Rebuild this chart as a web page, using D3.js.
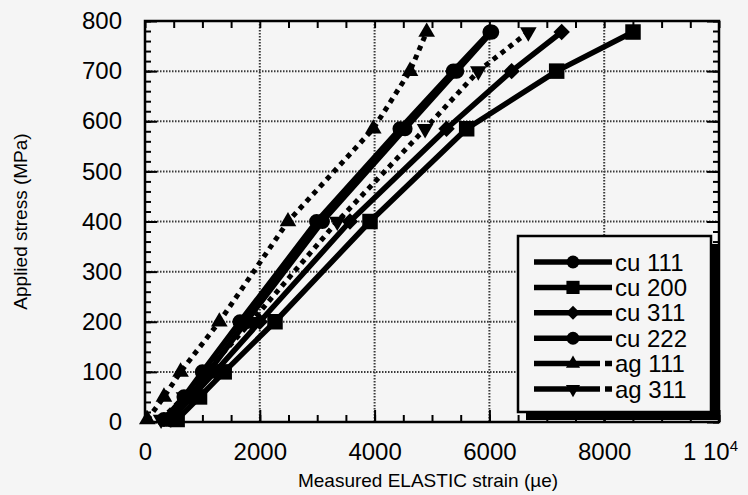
<!DOCTYPE html>
<html>
<head>
<meta charset="utf-8">
<script src="https://cdn.jsdelivr.net/npm/d3@7"></script>
<style>
  html, body { margin: 0; padding: 0; background: #f5f5f5; }
  svg { display: block; font-family: "Liberation Sans", Arial, Helvetica, sans-serif; }
</style>
</head>
<body>
<svg id="chart" width="748" height="495"></svg>
<script>
// Load steps (MPa) and measured elastic strain (microstrain) per reflection
const stressLevels = [5, 50, 100, 200, 400, 585, 700, 778];
const cu111 = [330, 680, 1000, 1655, 2990, 4443, 5371, 6010];
const cu200 = [560, 950, 1380, 2265, 3920, 5604, 7172, 8502];
const cu311 = [450, 820, 1220, 2000, 3570, 5253, 6387, 7259];
const cu222 = [420, 780, 1110, 1760, 3090, 4530, 5430, 6040];
const ag111 = [40, 330, 620, 1295, 2491, 3977, 4617, 4907];
const ag311 = [280, 680, 1060, 1850, 3350, 4880, 5807, 6678];

const seriesNames = ["cu 111", "cu 200", "cu 311", "cu 222", "ag 111", "ag 311"];
const seriesValues = [cu111, cu200, cu311, cu222, ag111, ag311];
const seriesMarkers = ["circle", "square", "diamond", "circle", "triangle", "triangleDown"];
const seriesDotted = [false, false, false, false, true, true];

const xTicks = [0, 2000, 4000, 6000, 8000, 10000];
const yTicks = [0, 100, 200, 300, 400, 500, 600, 700, 800];

const margin = { left: 145, right: 719, top: 21, bottom: 422 };
const svg = d3.select("#chart");

const x = d3.scaleLinear().domain([0, 10000]).range([margin.left, margin.right]);
const y = d3.scaleLinear().domain([0, 800]).range([margin.bottom, margin.top]);

svg.append("rect").attr("width", 748).attr("height", 495).attr("fill", "#f5f5f5");

// dotted grid at major ticks
const grid = svg.append("g").attr("stroke", "#3a3a3a").attr("stroke-width", 2)
  .attr("stroke-dasharray", "1.5,1.5");
grid.selectAll("line.gx").data(xTicks.filter(d => d > 0 && d < 10000)).join("line")
  .attr("x1", d => x(d)).attr("x2", d => x(d))
  .attr("y1", margin.top).attr("y2", margin.bottom);
grid.selectAll("line.gy").data(yTicks.filter(d => d > 0 && d < 800)).join("line")
  .attr("y1", d => y(d)).attr("y2", d => y(d))
  .attr("x1", margin.left).attr("x2", margin.right);

// marker shapes
function markerPath(kind, scale) {
  const k = scale || 1;
  switch (kind) {
    case "circle": return d3.symbol(d3.symbolCircle, 180 * k * k)();
    case "square": return d3.symbol(d3.symbolSquare, 240 * k * k)();
    case "diamond": return d3.symbol(d3.symbolSquare, 135 * k * k)();
    default: return d3.symbol(d3.symbolTriangle, 120 * k * k)();
  }
}
function markerRotate(kind) {
  if (kind === "diamond") return 45;
  if (kind === "triangleDown") return 180;
  return 0;
}

const line = d3.line().x(d => x(d[0])).y(d => y(d[1]));

const plot = svg.append("g");
seriesValues.forEach((vals, i) => {
  const pts = vals.map((v, j) => [v, stressLevels[j]]);
  const g = plot.append("g").attr("class", "series");
  g.append("path").datum(pts).attr("d", line)
    .attr("fill", "none").attr("stroke", "#000")
    .attr("stroke-width", seriesDotted[i] ? 5 : 5.5)
    .attr("stroke-dasharray", seriesDotted[i] ? "5,5" : null)
    .attr("stroke-linejoin", "round");
  g.selectAll("path.mk").data(pts).join("path").attr("class", "mk")
    .attr("d", markerPath(seriesMarkers[i]))
    .attr("transform", d => `translate(${x(d[0])},${y(d[1])}) rotate(${markerRotate(seriesMarkers[i])})`)
    .attr("fill", "#000");
});

// axes: inward ticks on all four sides
const fontTick = 24;
function styleAxis(g) {
  g.select(".domain").remove();
  g.selectAll(".tick line").attr("stroke", "#000").attr("stroke-width", 2);
  g.selectAll(".tick text").attr("fill", "#000").attr("font-size", fontTick)
    .attr("font-family", "'Liberation Sans', Arial, sans-serif");
}
const minorX = d3.range(0, 10001, 500);
const minorY = d3.range(0, 801, 20);

svg.append("g").attr("transform", `translate(${margin.left},0)`)
  .call(d3.axisLeft(y).tickValues(minorY).tickSize(-6).tickFormat("")).call(styleAxis);
svg.append("g").attr("transform", `translate(${margin.left},0)`)
  .call(d3.axisLeft(y).tickValues(yTicks).tickSize(-12).tickPadding(23)).call(styleAxis);
svg.append("g").attr("transform", `translate(${margin.right},0)`)
  .call(d3.axisRight(y).tickValues(minorY).tickSize(-6).tickFormat("")).call(styleAxis);
svg.append("g").attr("transform", `translate(${margin.right},0)`)
  .call(d3.axisRight(y).tickValues(yTicks).tickSize(-12).tickFormat("")).call(styleAxis);
svg.append("g").attr("transform", `translate(0,${margin.top})`)
  .call(d3.axisTop(x).tickValues(minorX).tickSize(-7).tickFormat("")).call(styleAxis);
svg.append("g").attr("transform", `translate(0,${margin.bottom})`)
  .call(d3.axisBottom(x).tickValues(minorX).tickSize(-7).tickFormat("")).call(styleAxis);
const xAxis = svg.append("g").attr("transform", `translate(0,${margin.bottom})`)
  .call(d3.axisBottom(x).tickValues(xTicks).tickSize(-12).tickPadding(21).tickFormat(d3.format("d")))
  .call(styleAxis);
xAxis.selectAll(".tick text").filter(d => d === 10000).each(function () {
  const t = d3.select(this).text("").attr("dx", -9);
  t.append("tspan").text("1 10");
  t.append("tspan").text("4").attr("font-size", 15).attr("dy", -9);
});

// plot frame
svg.append("rect").attr("x", margin.left).attr("y", margin.top)
  .attr("width", margin.right - margin.left).attr("height", margin.bottom - margin.top)
  .attr("fill", "none").attr("stroke", "#000").attr("stroke-width", 2.5);

// axis titles
svg.append("text").attr("x", (margin.left + margin.right) / 2 - 4).attr("y", 487)
  .attr("text-anchor", "middle").attr("font-size", 19).attr("fill", "#000")
  .text("Measured ELASTIC strain (\u00b5e)");
svg.append("text").attr("transform", `translate(27,${(margin.top + margin.bottom) / 2}) rotate(-90)`)
  .attr("text-anchor", "middle").attr("font-size", 19).attr("fill", "#000")
  .text("Applied stress (MPa)");

// legend with drop shadow
const lg = svg.append("g").attr("transform", "translate(518,236)");
const lw = 193, lh = 176;
lg.append("rect").attr("x", 8).attr("y", 8).attr("width", lw).attr("height", lh).attr("fill", "#000");
lg.append("rect").attr("x", 0).attr("y", 0).attr("width", lw).attr("height", lh)
  .attr("fill", "#f5f5f5").attr("stroke", "#000").attr("stroke-width", 2.5);
seriesNames.forEach((name, i) => {
  const ry = 26 + i * 25.4;
  const row = lg.append("g").attr("transform", `translate(0,${ry})`);
  row.append("line").attr("x1", 16).attr("x2", 94).attr("y1", 0).attr("y2", 0)
    .attr("stroke", "#000").attr("stroke-width", 5.5)
    .attr("stroke-dasharray", seriesDotted[i] ? "66,5,7" : null);
  row.append("path").attr("d", markerPath(seriesMarkers[i], 0.85))
    .attr("transform", `translate(55,0) rotate(${markerRotate(seriesMarkers[i])})`)
    .attr("fill", "#000");
  row.append("text").attr("x", 97).attr("y", 0).attr("dy", "0.36em")
    .attr("font-size", 24).attr("fill", "#000").text(name);
});
</script>
</body>
</html>
